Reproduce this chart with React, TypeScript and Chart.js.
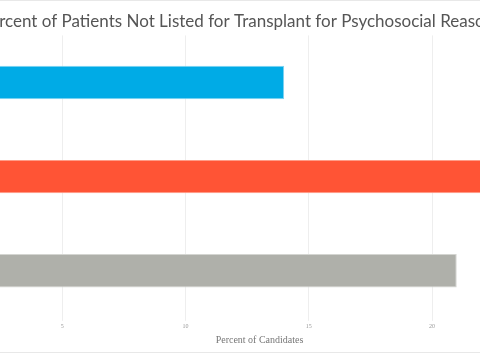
import React, { useEffect, useRef } from "react";
import { Chart, registerables } from "chart.js";

Chart.register(...registerables);

const categories = ["Group A", "Group B", "Group C"];
const values = [14.0, 24.0, 21.0];
const barColors = ["#00ABE6", "#FF5435", "#AFB0AA"];
const barBorders = ["#7FD3F2", "#FF9C88", "#D4D5D1"];
const titleText = "Percent of Patients Not Listed for Transplant for Psychosocial Reasons";
const xAxisTitle = "Percent of Candidates";

export default function App() {
  const ref = useRef<HTMLCanvasElement | null>(null);
  useEffect(() => {
    if (!ref.current) return;
    const chart = new Chart(ref.current, {
      type: "bar",
      data: {
        labels: categories,
        datasets: [
          {
            data: values,
            backgroundColor: barColors,
            borderColor: barBorders,
            borderWidth: 1,
            borderSkipped: false,
            categoryPercentage: 1,
            barPercentage: 0.355,
          },
        ],
      },
      options: {
        indexAxis: "y",
        responsive: false,
        animation: false,
        layout: { padding: { left: 52, right: 52, top: 0, bottom: 4 } },
        plugins: {
          legend: { display: false },
          tooltip: { enabled: false },
          title: {
            display: true,
            text: titleText,
            color: "#555",
            font: { family: "Lato", size: 17, weight: "normal" },
            padding: { top: 10, bottom: 4 },
          },
        },
        scales: {
          x: {
            min: 0,
            max: 26,
            ticks: {
              stepSize: 5,
              color: "#999",
              font: { family: "Liberation Serif", size: 6 },
              padding: 2,
            },
            grid: { color: "#eeeeee", lineWidth: 1, tickLength: 3 },
            border: { display: false },
            title: {
              display: true,
              text: xAxisTitle,
              color: "#777",
              font: { family: "Liberation Serif", size: 10 },
              padding: { top: 2, bottom: 0 },
            },
          },
          y: {
            ticks: { display: false },
            grid: { display: false },
            border: { display: false },
            afterFit: (scale: any) => {
              scale.width = 37;
            },
          },
        },
      },
    });
    return () => chart.destroy();
  }, []);
  return (
    <div
      style={{
        position: "absolute",
        left: -150,
        top: 0,
        width: 782,
        height: 351,
        borderTop: "1px solid #e8e8e8",
        borderBottom: "1px solid #e8e8e8",
        background: "#fff",
      }}
    >
      <canvas ref={ref} width={782} height={349} style={{ display: "block" }} />
    </div>
  );
}
